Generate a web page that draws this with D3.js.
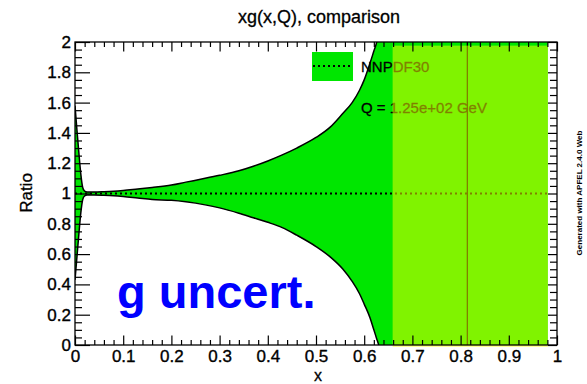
<!DOCTYPE html>
<html><head><meta charset="utf-8">
<script src="https://cdn.jsdelivr.net/npm/d3@7"></script>
<style>
html,body{margin:0;padding:0;background:#fff;}
svg{display:block;font-family:"Liberation Sans",Arial,Helvetica,sans-serif;}
</style></head>
<body>
<svg id="chart" width="587" height="384"></svg>
<script>
// ---- data ----
const bandX     = [0, 0.004, 0.008, 0.012, 0.016, 0.02, 0.025, 0.04, 0.06, 0.08, 0.1, 0.13, 0.16, 0.2, 0.23, 0.27, 0.3, 0.34, 0.37, 0.4, 0.43, 0.46, 0.5, 0.53, 0.556, 0.575, 0.59, 0.6, 0.612, 0.62, 0.626, 0.63, 0.64, 0.981];
const bandUpper = [1.58, 1.42, 1.27, 1.13, 1.04, 1.015, 1.01, 1.01, 1.012, 1.015, 1.02, 1.03, 1.04, 1.056, 1.075, 1.10, 1.12, 1.15, 1.18, 1.215, 1.255, 1.30, 1.37, 1.44, 1.53, 1.60, 1.68, 1.75, 1.86, 1.94, 2.0, 2.06, 2.3, 3.0];
const bandLower = [0.43, 0.58, 0.73, 0.87, 0.96, 0.985, 0.99, 0.99, 0.988, 0.985, 0.98, 0.97, 0.96, 0.955, 0.945, 0.925, 0.905, 0.87, 0.84, 0.81, 0.775, 0.725, 0.65, 0.58, 0.50, 0.42, 0.34, 0.27, 0.18, 0.10, 0.04, 0.0, -0.2, -1.0];
const centralX = [0, 0.981];
const centralY = [1, 1];
const spikeX = 0.814;
const overlayX = [0.659, 0.981];
const overlayY = [-0.012, 1.976];
const xTicks = [0, 0.1, 0.2, 0.3, 0.4, 0.5, 0.6, 0.7, 0.8, 0.9, 1];
const yTicks = [0, 0.2, 0.4, 0.6, 0.8, 1, 1.2, 1.4, 1.6, 1.8, 2];
const xMinor = d3.range(0, 1.0001, 0.02).map(v => +v.toFixed(2)).filter(v => !xTicks.includes(v));
const yMinor = d3.range(0, 2.0001, 0.05).map(v => +v.toFixed(2)).filter(v => !yTicks.includes(v));
const title = "xg(x,Q), comparison";
const legendLabel = "NNPDF30";
const scaleLabel = "Q = 1.25e+02 GeV";

// ---- layout ----
const L = 75, R = 557, T = 42, B = 345;
const svg = d3.select("#chart");
const x = d3.scaleLinear().domain([0, 1]).range([L, R]);
const y = d3.scaleLinear().domain([0, 2]).range([B, T]);

svg.append("defs").append("clipPath").attr("id", "plotclip")
  .append("rect").attr("x", L).attr("y", T).attr("width", R - L).attr("height", B - T);

const band = bandX.map((v, i) => ({x: v, u: bandUpper[i], l: bandLower[i]}));
const g = svg.append("g").attr("clip-path", "url(#plotclip)");

g.append("path").datum(band)
  .attr("d", d3.area().x(d => x(d.x)).y0(d => y(d.l)).y1(d => y(d.u)).curve(d3.curveMonotoneX))
  .attr("fill", "#00e600");
g.append("path").datum(band)
  .attr("d", d3.line().x(d => x(d.x)).y(d => y(d.u)).curve(d3.curveMonotoneX))
  .attr("fill", "none").attr("stroke", "#000").attr("stroke-width", 1.5);
g.append("path").datum(band)
  .attr("d", d3.line().x(d => x(d.x)).y(d => y(d.l)).curve(d3.curveMonotoneX))
  .attr("fill", "none").attr("stroke", "#000").attr("stroke-width", 1.5);
g.append("line")
  .attr("x1", x(centralX[0])).attr("x2", x(centralX[1]))
  .attr("y1", y(centralY[0])).attr("y2", y(centralY[1]))
  .attr("stroke", "#000").attr("stroke-width", 2).attr("stroke-dasharray", "2,3");
g.append("line")
  .attr("x1", x(spikeX)).attr("x2", x(spikeX))
  .attr("y1", y(0)).attr("y2", y(2))
  .attr("stroke", "#000").attr("stroke-width", 1.3);

// legend
svg.append("rect").attr("x", 312).attr("y", 52).attr("width", 41).attr("height", 29).attr("fill", "#00e600");
svg.append("line").attr("x1", 313).attr("x2", 352).attr("y1", 66).attr("y2", 66)
  .attr("stroke", "#000").attr("stroke-width", 2).attr("stroke-dasharray", "2,3");
svg.append("text").attr("x", 361).attr("y", 71.5).attr("font-size", 15).attr("fill", "#000")
  .attr("stroke", "#000").attr("stroke-width", 0.3).text(legendLabel);
svg.append("text").attr("x", 361).attr("y", 113).attr("font-size", 15).attr("fill", "#000")
  .attr("stroke", "#000").attr("stroke-width", 0.3).text(scaleLabel);

// yellow semi-transparent overlay
svg.append("rect")
  .attr("x", x(overlayX[0])).attr("width", x(overlayX[1]) - x(overlayX[0]))
  .attr("y", y(overlayY[1])).attr("height", y(overlayY[0]) - y(overlayY[1]))
  .attr("fill", "#ffff00").attr("fill-opacity", 0.5);

// axes
const fmt = d => String(+d.toFixed(1));
function styleAxis(sel) {
  sel.select(".domain").remove();
  sel.selectAll(".tick line").attr("stroke", "#000").attr("stroke-width", 1.2);
  sel.selectAll(".tick text").attr("font-size", 17).attr("fill", "#000")
     .attr("stroke", "#000").attr("stroke-width", 0.35)
     .attr("font-family", "'Liberation Sans',Arial,Helvetica,sans-serif");
}
svg.append("g").attr("transform", `translate(0,${B})`)
  .call(d3.axisBottom(x).tickValues(xTicks).tickFormat(fmt).tickSize(-9.5).tickPadding(5))
  .call(styleAxis);
svg.append("g").attr("transform", `translate(0,${B})`)
  .call(d3.axisBottom(x).tickValues(xMinor).tickFormat("").tickSize(-5)).call(styleAxis);
svg.append("g").attr("transform", `translate(0,${T})`)
  .call(d3.axisTop(x).tickValues(xTicks).tickFormat("").tickSize(-9.5)).call(styleAxis);
svg.append("g").attr("transform", `translate(0,${T})`)
  .call(d3.axisTop(x).tickValues(xMinor).tickFormat("").tickSize(-5)).call(styleAxis);
svg.append("g").attr("transform", `translate(${L},0)`)
  .call(d3.axisLeft(y).tickValues(yTicks).tickFormat(fmt).tickSize(-15).tickPadding(4))
  .call(styleAxis);
svg.append("g").attr("transform", `translate(${L},0)`)
  .call(d3.axisLeft(y).tickValues(yMinor).tickFormat("").tickSize(-7)).call(styleAxis);
svg.append("g").attr("transform", `translate(${R},0)`)
  .call(d3.axisRight(y).tickValues(yTicks).tickFormat("").tickSize(-9)).call(styleAxis);
svg.append("g").attr("transform", `translate(${R},0)`)
  .call(d3.axisRight(y).tickValues(yMinor).tickFormat("").tickSize(-7)).call(styleAxis);

svg.append("rect").attr("x", L).attr("y", T).attr("width", R - L).attr("height", B - T)
  .attr("fill", "none").attr("stroke", "#000").attr("stroke-width", 1.3);

// titles
svg.append("text").attr("x", 319).attr("y", 23).attr("text-anchor", "middle")
  .attr("font-size", 18).attr("fill", "#000").attr("stroke", "#000").attr("stroke-width", 0.3).text(title);
svg.append("text").attr("x", 318).attr("y", 381).attr("text-anchor", "middle")
  .attr("font-size", 16).attr("fill", "#000").attr("stroke", "#000").attr("stroke-width", 0.3).text("x");
svg.append("text").attr("transform", "translate(32,193) rotate(-90)").attr("text-anchor", "middle")
  .attr("font-size", 17).attr("fill", "#000").attr("stroke", "#000").attr("stroke-width", 0.3).text("Ratio");
svg.append("text").attr("transform", "translate(582,193) rotate(-90)").attr("text-anchor", "middle")
  .attr("font-size", 8).attr("font-weight", "bold").attr("fill", "#000").text("Generated with APFEL 2.4.0 Web");
svg.append("text").attr("x", 117).attr("y", 308)
  .attr("font-size", 47).attr("font-weight", "bold").attr("fill", "#0000ff").text("g uncert.");
</script>
</body></html>
